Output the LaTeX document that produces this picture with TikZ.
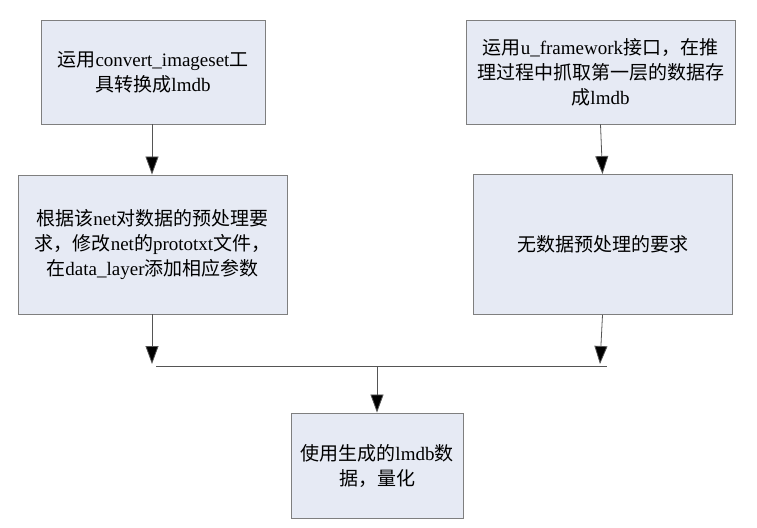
\documentclass[tikz,border=0pt]{standalone}
\usepackage{fontspec}
\setmainfont{Liberation Serif}
\newfontfamily\cjk{Noto Sans CJK SC}
\newcommand{\zh}[1]{{\cjk #1}}
\usetikzlibrary{arrows.meta}
\definecolor{boxfill}{HTML}{E6EAF4}
\definecolor{boxline}{HTML}{7F7F7F}
\definecolor{conn}{HTML}{555555}
\begin{document}
\begin{tikzpicture}[x=1pt,y=-1pt,
  box/.style={draw=boxline,fill=boxfill,line width=0.9pt,align=center,inner sep=0pt,
    font=\fontsize{19}{25}\selectfont},
  conn/.style={draw=conn,line width=0.8pt},
  arr/.style={conn,-{Triangle[length=18pt,width=13pt,fill=black]}}]
\useasboundingbox (0,0) rectangle (757,527);
\node[box,minimum width=224pt,minimum height=104pt] (b1) at (153,72)
  {\zh{运用}convert\_imageset\zh{工}\\\zh{具转换成}lmdb};
\node[box,minimum width=269pt,minimum height=139pt] (b2) at (152.5,244.5)
  {\zh{根据该}net\zh{对数据的预处理要}\\\zh{求，修改}net\zh{的}prototxt\zh{文件，}\\\zh{在}data\_layer\zh{添加相应参数}};
\node[box,minimum width=269pt,minimum height=104pt] (b3) at (600.5,72)
  {\zh{运用}u\_framework\zh{接口，在推}\\\zh{理过程中抓取第一层的数据存}\\\zh{成}lmdb};
\node[box,minimum width=259pt,minimum height=140pt] (b5) at (602.5,244.5)
  {\zh{无数据预处理的要求}};
\node[box,minimum width=172pt,minimum height=105pt] (b4) at (377,465.5)
  {\zh{使用生成的}lmdb\zh{数}\\\zh{据，量化}};
\coordinate (jl) at (152,364);
\coordinate (jr) at (600,364);
\coordinate (hl) at (156,366);
\coordinate (hr) at (607,366);
\coordinate (jm) at (377,366);
\draw[arr] (b1.south -| jl) -- (b2.north -| jl);
\draw[arr] (b3.south) -- (b5.north);
\draw[arr] (b2.south -| jl) -- (jl);
\draw[arr] (b5.south) -- (jr);
\draw[conn] (hl) -- (hr);
\draw[arr] (jm) -- (b4.north);
\end{tikzpicture}
\end{document}
